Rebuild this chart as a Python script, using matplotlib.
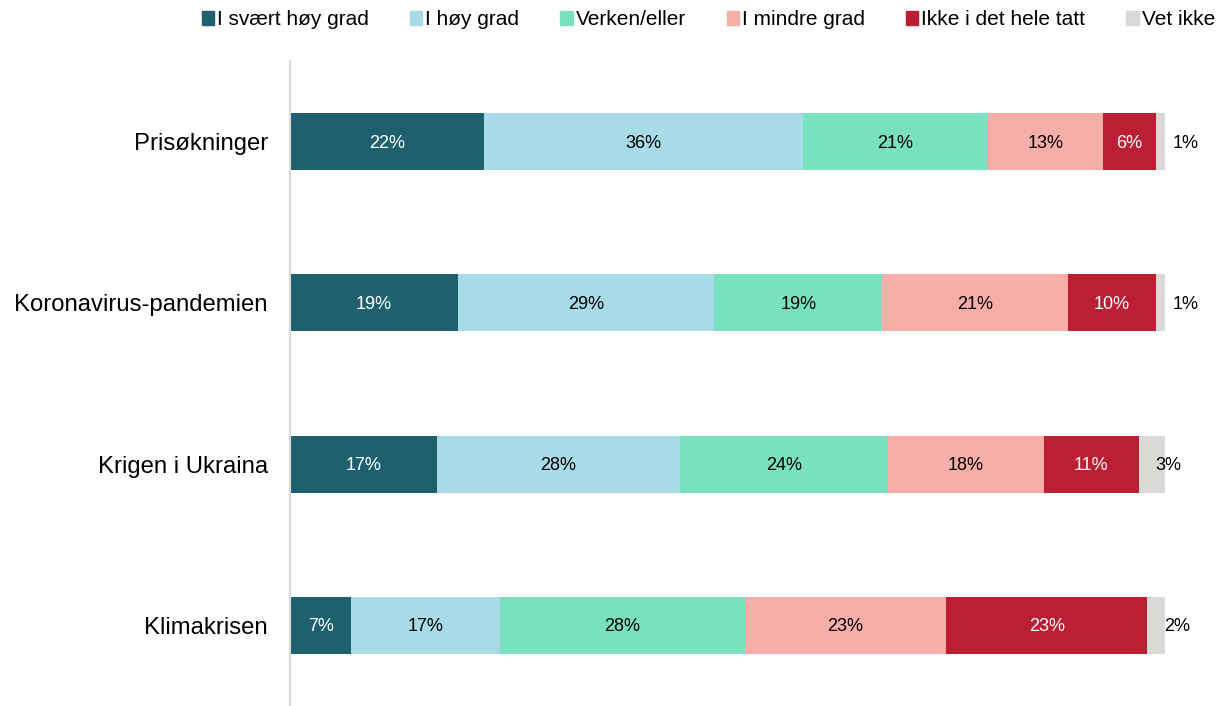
import numpy as np
import matplotlib as mpl
mpl.use('Agg')
import matplotlib.pyplot as plt
from matplotlib.patches import Patch

mpl.rcParams['font.family'] = ['Liberation Sans', 'DejaVu Sans']

categories = ["Prisøkninger", "Koronavirus-pandemien", "Krigen i Ukraina", "Klimakrisen"]
series = ["I svært høy grad", "I høy grad", "Verken/eller", "I mindre grad",
          "Ikke i det hele tatt", "Vet ikke"]
colors = ["#1F606F", "#A6DBE7", "#79E1C0", "#F7AEA8", "#BC1F33", "#D9D9D5"]
text_colors = ["white", "black", "black", "black", "white", "black"]

# percent per category (rows) and answer (columns)
values = np.array([
    [22, 36, 21, 13, 6, 1],
    [19, 29, 19, 21, 10, 1],
    [17, 28, 24, 18, 11, 3],
    [7, 17, 28, 23, 23, 2],
], dtype=float)

shares = values / values.sum(axis=1, keepdims=True) * 100

fig = plt.figure(figsize=(12.18, 7.06), dpi=100)
ax = fig.add_axes([290/1218, 0.0, 875/1218, 1 - 61/706])

y = np.arange(len(categories))
left = np.zeros(len(categories))
for j, name in enumerate(series):
    ax.barh(y, shares[:, j], left=left, height=0.355, color=colors[j], label=name)
    for i in range(len(categories)):
        lab = "%d%%" % values[i, j]
        if j == len(series) - 1:
            ax.text(left[i] + 1.85, y[i] + 0.01, lab, ha='left', va='center',
                    fontsize=13, color='black')
        else:
            ax.text(left[i] + shares[i, j] / 2, y[i] + 0.01, lab, ha='center', va='center',
                    fontsize=13, color=text_colors[j])
    left += shares[:, j]

ax.set_xlim(0, 100)
ax.set_ylim(len(categories) - 0.5, -0.5)
ax.set_yticks(y)
ax.set_yticklabels(categories, fontsize=17.2)
ax.tick_params(axis='y', length=0, pad=16)
ax.set_xticks([])
for s in ['top', 'right', 'bottom']:
    ax.spines[s].set_visible(False)
ax.spines['left'].set_color('#D9D9D9')
ax.spines['left'].set_linewidth(1.5)

handles = [Patch(color=c) for c in colors]
fig.legend(handles, series, loc='upper right', bbox_to_anchor=(1.006, 1.0),
           ncol=6, frameon=False, fontsize=15, handlelength=0.6, handleheight=0.6,
           handletextpad=0.15, columnspacing=1.95, borderaxespad=0.1)

plt.savefig("out.png", dpi=100)
